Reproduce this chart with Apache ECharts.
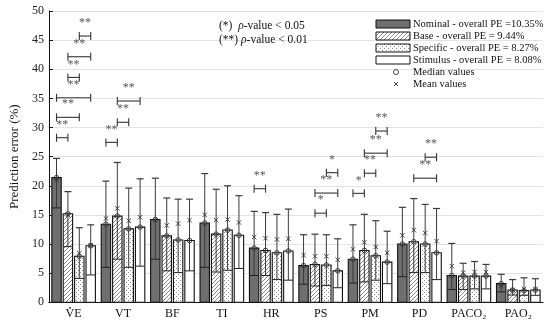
<!DOCTYPE html>
<html><head><meta charset="utf-8">
<script src="https://cdn.jsdelivr.net/npm/echarts@6/dist/echarts.min.js"></script>
<style>html,body{margin:0;padding:0;background:#fff}#c{width:550px;height:324px}</style>
</head><body><div id="c"></div>
<script>
const categories = ['VE','VT','BF','TI','HR','PS','PM','PD','PACO\u2082','PAO\u2082'];
const yTicks = [0,5,10,15,20,25,30,35,40,45,50];
const seriesNames = ['Nominal - overall PE =10.35%','Base - overall PE = 9.44%','Specific - overall PE = 8.27%','Stimulus - overall PE = 8.08%'];

const nominalMedian = [21.4, 13.4, 14.2, 13.6, 9.3, 6.3, 7.4, 10.0, 4.6, 3.2];
const nominalLower  = [16.2, 6.0, 7.4, 6.0, 4.6, 3.1, 3.3, 4.4, 2.2, 1.8];
const nominalUpper  = [24.7, 20.8, 21.3, 22.1, 15.6, 11.6, 13.3, 16.3, 10.1, 4.8];
const nominalMean   = [21.0, 14.4, 14.1, 15.0, 11.2, 8.1, 9.1, 11.5, 6.2, 2.8];

const baseMedian = [15.2, 14.8, 11.4, 11.7, 8.9, 6.5, 8.9, 10.4, 4.5, 2.1];
const baseLower  = [9.55, 7.4, 5.4, 5.2, 4.6, 2.8, 3.5, 5.1, 2.2, 1.25];
const baseUpper  = [19.0, 24.0, 17.9, 19.4, 15.4, 11.7, 15.1, 17.8, 6.7, 3.9];
const baseMean   = [15.0, 16.1, 13.2, 14.1, 11.0, 7.9, 10.3, 12.4, 5.1, 2.1];

const specMedian = [7.9, 12.6, 10.7, 12.4, 8.5, 6.4, 8.0, 10.0, 4.5, 2.0];
const specLower  = [4.1, 6.0, 5.1, 5.5, 3.9, 2.9, 3.8, 5.1, 2.3, 1.2];
const specUpper  = [12.8, 19.6, 17.7, 20.0, 15.1, 11.6, 14.0, 16.8, 7.0, 4.2];
const specMean   = [8.4, 14.0, 13.5, 14.2, 10.8, 7.9, 9.5, 11.9, 5.2, 2.3];

const stimMedian = [9.7, 12.9, 10.6, 11.5, 8.8, 5.4, 6.9, 8.5, 4.5, 2.1];
const stimLower  = [4.7, 6.2, 5.4, 5.8, 3.8, 2.5, 3.2, 3.9, 2.3, 1.2];
const stimUpper  = [13.3, 21.2, 17.7, 18.3, 16.0, 10.9, 12.2, 16.1, 6.5, 4.05];
const stimMean   = [9.8, 14.6, 14.1, 13.7, 10.9, 7.3, 8.5, 10.5, 5.2, 2.3];

// significance brackets: category index, bar from, bar to, y value
const sigCat   = [0,0,0,0,0,0, 1,1,1, 4, 5,5,5, 6,6,6,6, 7,7];
const sigFrom  = [0,0,0,1,1,2, 0,1,1, 0, 1,1,2, 0,1,1,2, 1,2];
const sigTo    = [1,2,3,2,3,3, 1,2,3, 1, 2,3,3, 1,2,3,3, 3,3];
const sigY     = [28.25,31.75,35.1,38.6,42.15,45.7, 27.45,30.9,34.55, 19.5, 15.3,18.75,22.25, 18.7,22.15,25.6,29.4, 21.3,24.9];
const sigLabel = ['**','**','**','**','**','**', '**','**','**', '**', '*','**','*', '*','**','**','**', '**','**'];

const SERIF = '"Liberation Serif","DejaVu Serif",serif';

function makeHatch(){
  const c=document.createElement('canvas');c.width=4;c.height=4;const g=c.getContext('2d');
  g.fillStyle='#fff';g.fillRect(0,0,4,4);g.strokeStyle='#7a7a7a';g.lineWidth=0.9;
  g.beginPath();g.moveTo(0,4);g.lineTo(4,0);g.moveTo(-1,1);g.lineTo(1,-1);g.moveTo(3,5);g.lineTo(5,3);g.stroke();
  return {image:c,repeat:'repeat'};
}
function makeDots(){
  const c=document.createElement('canvas');c.width=4;c.height=4;const g=c.getContext('2d');
  g.fillStyle='#fff';g.fillRect(0,0,4,4);g.fillStyle='#8a8a8a';
  g.fillRect(0,0,1,1);g.fillRect(2,2,1,1);
  return {image:c,repeat:'repeat'};
}
const fills = ['#6f6f6f', makeHatch(), makeDots(), '#ffffff'];
const BAR_STEP = 11.4, BAR_W = 9.4;
function barOffset(i){ return (i-1.5)*BAR_STEP; }

const groups = [
  [nominalMedian,nominalLower,nominalUpper,nominalMean],
  [baseMedian,baseLower,baseUpper,baseMean],
  [specMedian,specLower,specUpper,specMean],
  [stimMedian,stimLower,stimUpper,stimMean]
];

function barSeries(si){
  const g = groups[si];
  const data = categories.map((c,i)=>[i,g[0][i],g[1][i],g[2][i],g[3][i]]);
  return {
    type:'custom', name:seriesNames[si], data, encode:{x:0,y:1}, z:2+si,
    renderItem(params, api){
      const ci=api.value(0);
      const pm=api.coord([ci,api.value(1)]);
      const p0=api.coord([ci,0]);
      const pl=api.coord([ci,api.value(2)]);
      const pu=api.coord([ci,api.value(3)]);
      const pmean=api.coord([ci,api.value(4)]);
      const cx=pm[0]+barOffset(si), w=BAR_W, x0=cx-w/2;
      const lc='#3a3a3a';
      const s=2.2;
      return {type:'group',children:[
        {type:'rect',shape:{x:x0,y:pm[1],width:w,height:p0[1]-pm[1]},style:{fill:fills[si],stroke:'#111',lineWidth:1.1}},
        {type:'line',shape:{x1:x0,y1:pl[1],x2:x0+w,y2:pl[1]},style:{stroke:'#222',lineWidth:1}},
        {type:'line',shape:{x1:cx,y1:pl[1],x2:cx,y2:pu[1]},style:{stroke:lc,lineWidth:1}},
        {type:'line',shape:{x1:cx-3.5,y1:pu[1],x2:cx+3.5,y2:pu[1]},style:{stroke:lc,lineWidth:1.2}},
        {type:'circle',shape:{cx:cx,cy:pm[1],r:2.3},style:{fill:'none',stroke:'#333',lineWidth:0.9}},
        {type:'line',shape:{x1:cx-s,y1:pmean[1]-s,x2:cx+s,y2:pmean[1]+s},style:{stroke:'#333',lineWidth:0.9}},
        {type:'line',shape:{x1:cx-s,y1:pmean[1]+s,x2:cx+s,y2:pmean[1]-s},style:{stroke:'#333',lineWidth:0.9}}
      ]};
    }
  };
}

const sigData = sigCat.map((c,i)=>[c,sigY[i],sigFrom[i],sigTo[i]]);
const sigSeries = {
  type:'custom', name:'sig', data:sigData, encode:{x:0,y:1}, z:10,
  renderItem(params, api){
    const ci=api.value(0);
    const p=api.coord([ci,api.value(1)]);
    const xa=p[0]+barOffset(api.value(2)), xb=p[0]+barOffset(api.value(3));
    const y=p[1];
    const st={stroke:'#333',lineWidth:1.1};
    return {type:'group',children:[
      {type:'line',shape:{x1:xa,y1:y,x2:xb,y2:y},style:st},
      {type:'line',shape:{x1:xa,y1:y-4,x2:xa,y2:y+4},style:st},
      {type:'line',shape:{x1:xb,y1:y-4,x2:xb,y2:y+4},style:st},
      {type:'text',style:{text:sigLabel[params.dataIndex],x:(xa+xb)/2,y:y-7,align:'center',verticalAlign:'bottom',font:'12px '+SERIF,fill:'#555'}}
    ]};
  }
};

const legendChildren = [];
const rowY = [24,36,48,60];
for(let i=0;i<4;i++){
  legendChildren.push({type:'rect',shape:{x:376,y:rowY[i]-4,width:34,height:8},style:{fill:fills[i],stroke:'#111',lineWidth:1}});
  legendChildren.push({type:'text',style:{text:seriesNames[i],x:413,y:rowY[i],verticalAlign:'middle',font:'10.5px '+SERIF,fill:'#111'}});
}
legendChildren.push({type:'circle',shape:{cx:396,cy:72,r:2.5},style:{fill:'none',stroke:'#333',lineWidth:0.9}});
legendChildren.push({type:'text',style:{text:'Median values',x:413,y:72,verticalAlign:'middle',font:'10.5px '+SERIF,fill:'#111'}});
legendChildren.push({type:'line',shape:{x1:394,y1:82,x2:398,y2:86},style:{stroke:'#333',lineWidth:0.9}});
legendChildren.push({type:'line',shape:{x1:394,y1:86,x2:398,y2:82},style:{stroke:'#333',lineWidth:0.9}});
legendChildren.push({type:'text',style:{text:'Mean values',x:413,y:84,verticalAlign:'middle',font:'10.5px '+SERIF,fill:'#111'}});

const noteRich = {n:{font:'11.5px '+SERIF,fill:'#111'},i:{font:'italic 11.5px '+SERIF,fill:'#111'}};
legendChildren.push({type:'text',style:{text:'{n|(*)  }{i|\u03c1}{n|-value < 0.05}',rich:noteRich,x:219,y:26,verticalAlign:'middle'}});
legendChildren.push({type:'text',style:{text:'{n|(**) }{i|\u03c1}{n|-value < 0.01}',rich:noteRich,x:219,y:39.5,verticalAlign:'middle'}});

const chart = echarts.init(document.getElementById('c'), null, {renderer:'canvas'});
const option = {
  animation:false,
  backgroundColor:'#fff',
  grid:{left:37,right:7,top:11,bottom:21.7},
  xAxis:{type:'category',data:categories,boundaryGap:true,
    axisLine:{show:true,lineStyle:{color:'#111',width:1}},axisTick:{show:false},
    axisLabel:{fontFamily:SERIF,fontSize:12,color:'#111',margin:6},splitLine:{show:false}},
  yAxis:{type:'value',min:0,max:50,interval:5,
    name:'Prediction error (%)',nameLocation:'middle',nameGap:25,
    nameTextStyle:{fontFamily:SERIF,fontSize:13,color:'#111'},
    axisLine:{show:true,lineStyle:{color:'#111',width:1}},
    axisTick:{show:true,inside:true,length:4,lineStyle:{color:'#111'}},
    axisLabel:{fontFamily:SERIF,fontSize:12,color:'#222',margin:5,
      formatter:(v)=>yTicks.indexOf(v)>=0?String(v):''},
    splitLine:{show:true,lineStyle:{color:'#e3e3e3',width:1}}},
  series:[barSeries(0),barSeries(1),barSeries(2),barSeries(3),sigSeries]
};
chart.setOption(option);
// dot over the V of the first category label (V-dot E)
const vePx = chart.convertToPixel({xAxisIndex:0}, categories[0]);
const baseY = chart.convertToPixel({yAxisIndex:0}, 0);
legendChildren.push({type:'circle',shape:{cx:vePx-3.6,cy:baseY+5.5,r:0.9},style:{fill:'#111'}});
chart.setOption({graphic:{elements:[{type:'group',children:legendChildren,z:100}]}});
</script></body></html>
